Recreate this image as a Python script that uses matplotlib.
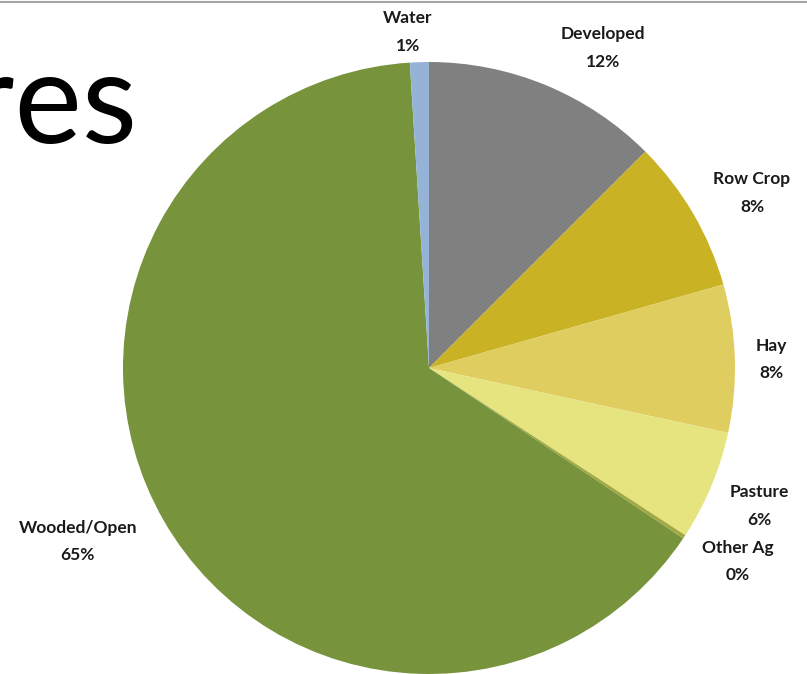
import numpy as np
import matplotlib
matplotlib.use('Agg')
import matplotlib.pyplot as plt
from matplotlib.lines import Line2D

# land use shares, clockwise from 12 o'clock
categories = ['Developed', 'Row Crop', 'Hay', 'Pasture', 'Other Ag', 'Wooded/Open', 'Water']
shares = [12.5, 8.1, 7.8, 5.8, 0.2, 64.6, 1.0]
pct_labels = ['12%', '8%', '8%', '6%', '0%', '65%', '1%']

colors = ['#808080', '#C9B324', '#E0CD5F', '#E6E47F', '#A3A842', '#77933C', '#95B3D7']
# label placement: radial distance (pie radius = 1) and clockwise nudge in degrees
label_dist = [1.19, 1.20, 1.12, 1.17, 1.19, 1.28, 1.10]
label_nudge = [6.0, 2.0, 0.4, 0.0, -1.4, 3.6, -1.8]

W, H = 807, 674
fig = plt.figure(figsize=(W / 100, H / 100), dpi=100)

# pie centre (429, 368) px, radius 306 px
cx, cy, r = 429, 368, 306
ax = fig.add_axes([(cx - r) / W, (H - cy - r) / H, 2 * r / W, 2 * r / H])

wedges, _ = ax.pie(shares, colors=colors, startangle=90, counterclock=False,
                   wedgeprops=dict(linewidth=0))
ax.set_xlim(-1, 1)
ax.set_ylim(-1, 1)
ax.axis('off')

for w, cat, pct, d, nudge in zip(wedges, categories, pct_labels, label_dist, label_nudge):
    mid = np.deg2rad((w.theta1 + w.theta2) / 2 - nudge)
    ax.text(d * np.cos(mid), d * np.sin(mid), f'{cat}\n{pct}',
            ha='center', va='center', fontsize=12.5, fontweight='bold',
            family='Lato', color='#1a1a1a', linespacing=1.9)

# leftover slide title, cut off at the left edge
fig.text(137 / W, 1 - 143 / H, 'res', ha='right', va='baseline',
         fontsize=92, family=['Liberation Sans Narrow', 'Lato'], color='black')

# thin slide border at the top
fig.add_artist(Line2D([0, 1], [1 - 1.5 / H, 1 - 1.5 / H], color='#A6A6A6',
                      linewidth=1.5, transform=fig.transFigure))

fig.savefig('out.png', dpi=100)
